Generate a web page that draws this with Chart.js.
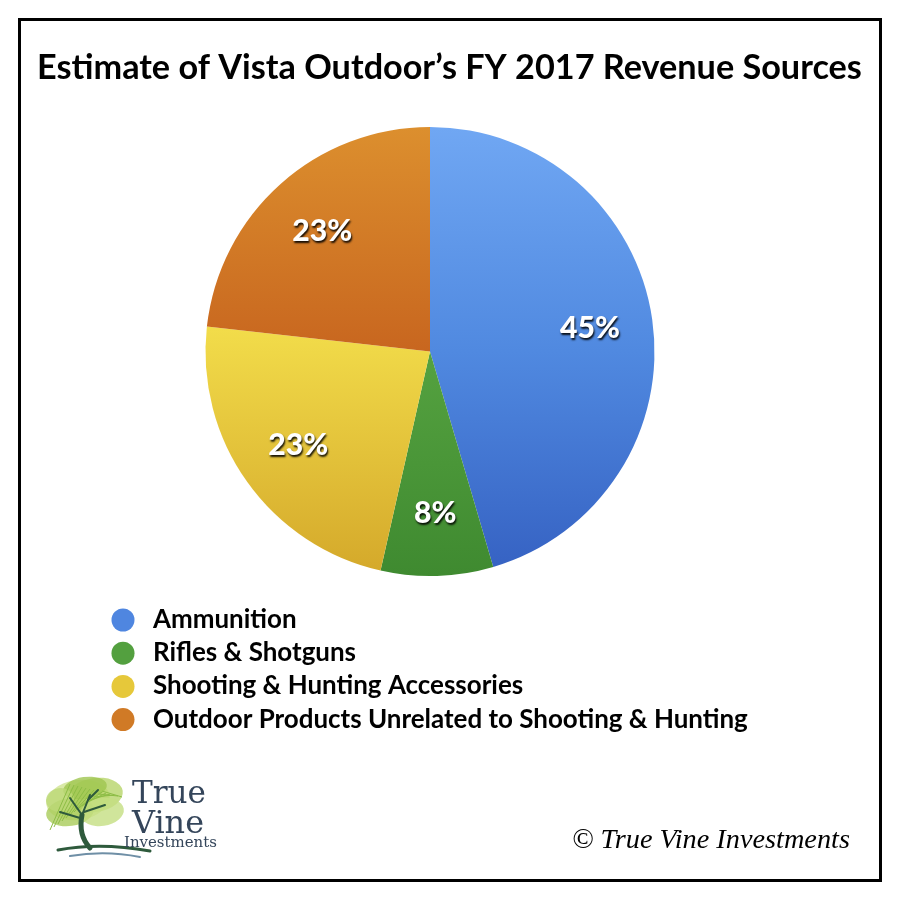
<!DOCTYPE html>
<html>
<head>
<meta charset="utf-8">
<script src="https://cdn.jsdelivr.net/npm/chart.js@4.4.1/dist/chart.umd.min.js"></script>
<style>
  html, body { margin: 0; padding: 0; background: #fff; }
  #wrap { width: 900px; height: 900px; }
</style>
</head>
<body>
<div id="wrap"><canvas id="revenuePie" width="900" height="900"></canvas></div>
<script>
// data
const chartTitle = 'Estimate of Vista Outdoor\u2019s FY 2017 Revenue Sources';
const categories = [
  'Ammunition',
  'Rifles & Shotguns',
  'Shooting & Hunting Accessories',
  'Outdoor Products Unrelated to Shooting & Hunting'
];
const revenueShare = [45, 8, 23, 23];
const copyrightText = '\u00a9 True Vine Investments';

// gradient stops per slice (top of pie -> bottom of pie)
const sliceStops = [
  [[0, '#70a7f3'], [0.5, '#5089e0'], [1, '#3561c2']],
  [[0, '#5aa845'], [0.5, '#55a240'], [1, '#3f8a30']],
  [[0, '#f6e250'], [0.45, '#f2dc4a'], [1, '#d4a82a']],
  [[0, '#dc8f2e'], [0.5, '#c8661f'], [1, '#b85a18']]
];
const legendDot = ['#4f86e0', '#53a03f', '#e6c83a', '#d07a26'];

function fitFont(ctx, text, weight, family, width) {
  ctx.font = weight + ' 100px ' + family;
  return 100 * width / ctx.measureText(text).width;
}

const decorPlugin = {
  id: 'decor',
  beforeDraw(chart) {
    const ctx = chart.ctx;
    ctx.save();
    ctx.fillStyle = '#fff';
    ctx.fillRect(0, 0, 900, 900);
    ctx.restore();
  },
  afterDraw(chart) {
    const ctx = chart.ctx;
    ctx.save();

    // frame
    ctx.strokeStyle = '#000';
    ctx.lineWidth = 3;
    ctx.strokeRect(19.5, 19.5, 861, 861);

    // title
    ctx.fillStyle = '#000';
    ctx.textBaseline = 'alphabetic';
    let s = fitFont(ctx, chartTitle, '700', 'Lato', 825);
    ctx.font = '700 ' + s + 'px Lato';
    ctx.fillText(chartTitle, 37, 79);

    // percent labels on slices
    const meta = chart.getDatasetMeta(0);
    s = fitFont(ctx, '45%', '900', 'Lato', 60);
    ctx.font = '900 ' + s + 'px Lato';
    ctx.textAlign = 'center';
    ctx.textBaseline = 'middle';
    meta.data.forEach((arc, i) => {
      const mid = (arc.startAngle + arc.endAngle) / 2;
      const r = arc.outerRadius * 0.72;
      const x = arc.x + Math.cos(mid) * r;
      const y = arc.y + Math.sin(mid) * r;
      ctx.save();
      ctx.shadowColor = 'rgba(0,0,0,0.9)';
      ctx.shadowOffsetX = 1;
      ctx.shadowOffsetY = 2;
      ctx.shadowBlur = 2;
      ctx.fillStyle = '#fff';
      ctx.fillText(revenueShare[i] + '%', x, y);
      ctx.restore();
    });

    // legend
    ctx.textAlign = 'left';
    ctx.textBaseline = 'alphabetic';
    s = fitFont(ctx, categories[3], '700', 'Lato', 595);
    categories.forEach((c, i) => {
      const cy = 620 + i * 33.2;
      ctx.beginPath();
      ctx.arc(123, cy, 11.5, 0, Math.PI * 2);
      ctx.fillStyle = legendDot[i];
      ctx.fill();
      ctx.fillStyle = '#000';
      ctx.font = '700 ' + s + 'px Lato';
      ctx.fillText(c, 153, cy + 8);
    });

    // copyright
    s = fitFont(ctx, copyrightText, 'italic 400', '"Liberation Serif"', 278);
    ctx.font = 'italic 400 ' + s + 'px "Liberation Serif"';
    ctx.fillStyle = '#000';
    ctx.fillText(copyrightText, 572, 848);

    // logo: tree crown
    const blobs = [
      [78, 800, 32, 20, '#cfe391'], [95, 795, 28, 17, '#b7d469'],
      [70, 812, 24, 14, '#a9cc5a'], [102, 812, 22, 14, '#c4de82'],
      [85, 788, 22, 11, '#9fc650'], [60, 800, 14, 12, '#bcd877']
    ];
    blobs.forEach(b => {
      ctx.beginPath();
      ctx.ellipse(b[0], b[1], b[2], b[3], -0.15, 0, Math.PI * 2);
      ctx.fillStyle = b[4];
      ctx.globalAlpha = 0.8;
      ctx.fill();
    });
    ctx.globalAlpha = 1;
    ctx.strokeStyle = '#8dbd45';
    ctx.lineWidth = 1;
    for (let k = 0; k < 14; k++) {
      ctx.beginPath();
      ctx.moveTo(50 + k * 4, 830 - k * 3);
      ctx.lineTo(70 + k * 4, 784 + k);
      ctx.stroke();
    }
    // trunk and branches
    ctx.strokeStyle = '#2e5a3c';
    ctx.lineCap = 'round';
    ctx.lineWidth = 5;
    ctx.beginPath();
    ctx.moveTo(90, 848);
    ctx.quadraticCurveTo(78, 835, 82, 815);
    ctx.stroke();
    ctx.lineWidth = 2;
    [[82, 815, 70, 798], [82, 815, 90, 795], [84, 812, 105, 805], [80, 818, 60, 812], [88, 800, 98, 790]].forEach(b => {
      ctx.beginPath(); ctx.moveTo(b[0], b[1]); ctx.lineTo(b[2], b[3]); ctx.stroke();
    });
    // ground / water
    ctx.lineWidth = 3;
    ctx.beginPath();
    ctx.moveTo(58, 850); ctx.quadraticCurveTo(100, 842, 150, 851); ctx.stroke();
    ctx.strokeStyle = '#6f8fa6';
    ctx.lineWidth = 2;
    ctx.beginPath();
    ctx.moveTo(70, 856); ctx.quadraticCurveTo(105, 850, 140, 857); ctx.stroke();

    // logo text
    ctx.fillStyle = '#34455a';
    ctx.textAlign = 'left';
    s = fitFont(ctx, 'True', '400', '"DejaVu Serif"', 74);
    ctx.font = '400 ' + s + 'px "DejaVu Serif"';
    ctx.fillText('True', 132, 803);
    s = fitFont(ctx, 'Vine', '400', '"DejaVu Serif"', 72);
    ctx.font = '400 ' + s + 'px "DejaVu Serif"';
    ctx.fillText('Vine', 132, 833);
    s = fitFont(ctx, 'Investments', '400', '"DejaVu Serif"', 93);
    ctx.font = '400 ' + s + 'px "DejaVu Serif"';
    ctx.fillText('Investments', 124, 847);

    ctx.restore();
  }
};

new Chart(document.getElementById('revenuePie'), {
  type: 'pie',
  data: {
    labels: categories,
    datasets: [{
      data: revenueShare,
      backgroundColor(context) {
        const { ctx, chartArea } = context.chart;
        if (!chartArea) return legendDot[context.dataIndex];
        const g = ctx.createLinearGradient(0, chartArea.top, 0, chartArea.bottom);
        sliceStops[context.dataIndex].forEach(st => g.addColorStop(st[0], st[1]));
        return g;
      },
      borderWidth: 0,
      hoverOffset: 0,
      offset: 0
    }]
  },
  options: {
    responsive: false,
    animation: false,
    layout: { padding: { left: 205, right: 245, top: 127, bottom: 324 } },
    plugins: {
      legend: { display: false },
      title: { display: false },
      tooltip: { enabled: false }
    }
  },
  plugins: [decorPlugin]
});
</script>
</body>
</html>
